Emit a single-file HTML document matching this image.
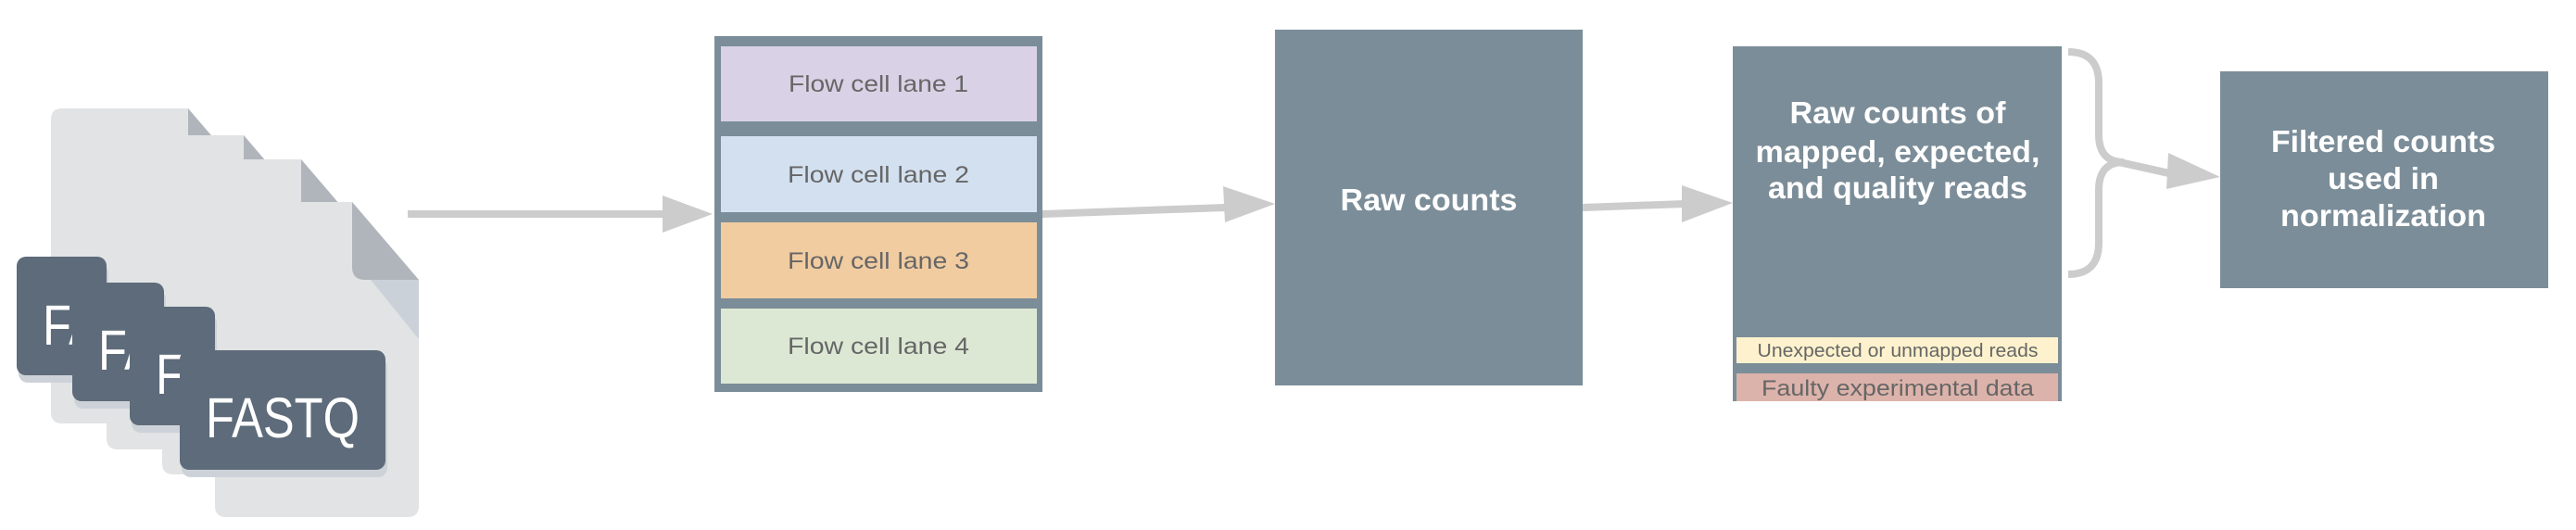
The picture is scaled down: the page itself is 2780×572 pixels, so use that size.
<!DOCTYPE html>
<html><head><meta charset="utf-8"><style>
html,body{margin:0;padding:0;background:#fff;}
svg{display:block;}
text{font-family:"Liberation Sans",sans-serif;}
</style></head><body>
<svg width="2780" height="572" viewBox="0 0 2780 572" xmlns="http://www.w3.org/2000/svg">
<defs>
<clipPath id="c1"><rect x="18" y="277" width="97" height="128" rx="10"/></clipPath>
<clipPath id="c2"><rect x="78" y="305" width="99" height="128" rx="10"/></clipPath>
<clipPath id="c3"><rect x="140" y="331" width="92" height="128" rx="10"/></clipPath>
</defs>

<!-- document pages -->
<g>
  <g>
    <path d="M67 117 H203 L275 201 V445 Q275 457 263 457 H67 Q55 457 55 445 V129 Q55 117 67 117Z" fill="#e2e3e5"/>
    <path d="M203 117 L275 201 H203Z" fill="#b0b5bb"/>
  </g>
  <g>
    <path d="M127 146 H263 L335 230 V473 Q335 485 323 485 H127 Q115 485 115 473 V158 Q115 146 127 146Z" fill="#e2e3e5"/>
    <path d="M263 146 L335 230 H263Z" fill="#b0b5bb"/>
  </g>
  <g>
    <path d="M187 172 H325 L397 256 V500 Q397 512 385 512 H187 Q175 512 175 500 V184 Q175 172 187 172Z" fill="#e2e3e5"/>
    <path d="M325 172 L397 256 H325Z" fill="#b0b5bb"/>
  </g>
  <g>
    <path d="M244 218 H380 L452 302 V546 Q452 558 440 558 H244 Q232 558 232 546 V230 Q232 218 244 218Z" fill="#e2e3e5"/>
    <path d="M400 302 H452 V366Z" fill="#cbd1d8"/>
    <path d="M380 218 L452 302 H394 Q380 302 380 288Z" fill="#b0b5bb"/>
  </g>

  <g>
    <rect x="20" y="285" width="97" height="128" rx="10" fill="#cdd2d8"/>
    <rect x="18" y="277" width="97" height="128" rx="10" fill="#5d6b7a"/>
    <text x="46" y="372" font-size="61" fill="#fff" textLength="166" lengthAdjust="spacingAndGlyphs" clip-path="url(#c1)">FASTQ</text>
  </g>
  <g>
    <rect x="80" y="313" width="99" height="128" rx="10" fill="#cdd2d8"/>
    <rect x="78" y="305" width="99" height="128" rx="10" fill="#5d6b7a"/>
    <text x="106" y="399" font-size="61" fill="#fff" textLength="166" lengthAdjust="spacingAndGlyphs" clip-path="url(#c2)">FASTQ</text>
  </g>
  <g>
    <rect x="142" y="339" width="92" height="128" rx="10" fill="#cdd2d8"/>
    <rect x="140" y="331" width="92" height="128" rx="10" fill="#5d6b7a"/>
    <text x="168" y="425" font-size="61" fill="#fff" textLength="166" lengthAdjust="spacingAndGlyphs" clip-path="url(#c3)">FASTQ</text>
  </g>
  <g>
    <rect x="196" y="386" width="222" height="129" rx="10" fill="#cdd2d8"/>
    <rect x="194" y="378" width="222" height="129" rx="10" fill="#5d6b7a"/>
    <text x="222" y="472" font-size="61" fill="#fff" textLength="166" lengthAdjust="spacingAndGlyphs">FASTQ</text>
  </g>
</g>

<!-- arrow 1 -->
<g fill="#cccccc">
  <rect x="440" y="227" width="280" height="8"/>
  <path d="M715 211 L769 231 L715 251Z"/>
</g>

<!-- flow cell -->
<g>
  <rect x="771" y="39" width="354" height="384" fill="#7b8d98"/>
  <g>
    <rect x="778" y="50" width="341" height="81" fill="#d9d2e6"/>
    <text x="948" y="99" font-size="25" fill="#666" text-anchor="middle" textLength="194" lengthAdjust="spacingAndGlyphs">Flow cell lane 1</text>
  </g>
  <g>
    <rect x="778" y="147" width="341" height="82" fill="#d3e0f0"/>
    <text x="948" y="197" font-size="25" fill="#666" text-anchor="middle" textLength="196" lengthAdjust="spacingAndGlyphs">Flow cell lane 2</text>
  </g>
  <g>
    <rect x="778" y="240" width="341" height="82" fill="#f1cca1"/>
    <text x="948" y="290" font-size="25" fill="#666" text-anchor="middle" textLength="196" lengthAdjust="spacingAndGlyphs">Flow cell lane 3</text>
  </g>
  <g>
    <rect x="778" y="333" width="341" height="81" fill="#dce8d4"/>
    <text x="948" y="382" font-size="25" fill="#666" text-anchor="middle" textLength="196" lengthAdjust="spacingAndGlyphs">Flow cell lane 4</text>
  </g>
</g>

<!-- arrow 2 -->
<g fill="#cccccc">
  <path d="M1125 227 L1322 220 L1322 228 L1125 235Z"/>
  <path d="M1320 201 L1376 220 L1322 240Z"/>
</g>

<!-- raw counts -->
<g>
  <rect x="1376" y="32" width="332" height="384" fill="#7b8d98"/>
  <text x="1542" y="227" font-size="33" font-weight="bold" fill="#fff" text-anchor="middle" textLength="191" lengthAdjust="spacingAndGlyphs">Raw counts</text>
</g>

<!-- arrow 3 -->
<g fill="#cccccc">
  <path d="M1708 220 L1818 216 L1818 224 L1708 228Z"/>
  <path d="M1815 200 L1870 219 L1815 240Z"/>
</g>

<!-- mapped box -->
<g>
  <rect x="1870" y="50" width="355" height="383" fill="#7b8d98"/>
  <text x="2048" y="133" font-size="33" font-weight="bold" fill="#fff" text-anchor="middle" textLength="233" lengthAdjust="spacingAndGlyphs">Raw counts of</text>
  <text x="2048" y="175" font-size="33" font-weight="bold" fill="#fff" text-anchor="middle" textLength="307" lengthAdjust="spacingAndGlyphs">mapped, expected,</text>
  <text x="2048" y="214" font-size="33" font-weight="bold" fill="#fff" text-anchor="middle" textLength="280" lengthAdjust="spacingAndGlyphs">and quality reads</text>
  <g>
    <rect x="1874" y="364" width="347" height="28" fill="#fdf2cd"/>
    <text x="2048" y="385" font-size="20" fill="#666" text-anchor="middle" textLength="303" lengthAdjust="spacingAndGlyphs">Unexpected or unmapped reads</text>
  </g>
  <g>
    <rect x="1874" y="403" width="347" height="30" fill="#dcb3ab"/>
    <text x="2048" y="427" font-size="24" fill="#666" text-anchor="middle" textLength="294" lengthAdjust="spacingAndGlyphs">Faulty experimental data</text>
  </g>
</g>

<!-- brace and arrow 4 -->
<g>
  <path d="M2232 56 Q2265 56 2265 90 V145 Q2265 175 2292 175 M2232 296 Q2265 296 2265 262 V205 Q2265 175 2292 175" fill="none" stroke="#cccccc" stroke-width="8"/>
  <path d="M2288 171 L2342 183 L2340 191 L2286 179Z" fill="#cccccc"/>
  <path d="M2340 165 L2396 191 L2338 204Z" fill="#cccccc"/>
</g>

<!-- filtered box -->
<g>
  <rect x="2396" y="77" width="354" height="234" fill="#7b8d98"/>
  <text x="2572" y="164" font-size="33" font-weight="bold" fill="#fff" text-anchor="middle" textLength="242" lengthAdjust="spacingAndGlyphs">Filtered counts</text>
  <text x="2572" y="204" font-size="33" font-weight="bold" fill="#fff" text-anchor="middle" textLength="120" lengthAdjust="spacingAndGlyphs">used in</text>
  <text x="2572" y="244" font-size="33" font-weight="bold" fill="#fff" text-anchor="middle" textLength="222" lengthAdjust="spacingAndGlyphs">normalization</text>
</g>
</svg>
</body></html>
